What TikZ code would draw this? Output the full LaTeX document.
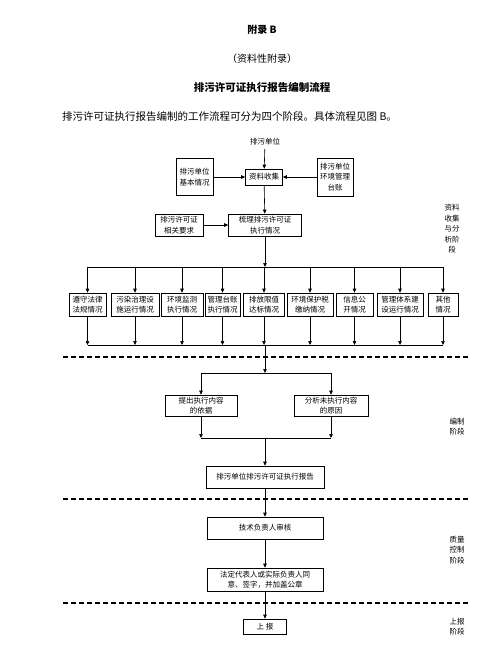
\documentclass[tikz,border=0pt]{standalone}
\usepackage{fontspec}
\newfontfamily\cjk{Noto Sans CJK SC}
\usetikzlibrary{arrows.meta}

\tikzset{
  flowbox/.style={draw, line width=0.6pt, align=center, inner sep=0pt,
    font=\cjk\fontsize{7.5}{10.5}\selectfont},
  flowarrow/.style={-{Triangle[length=4pt,width=3.5pt]}, line width=0.6pt},
  stage/.style={align=center, font=\cjk\fontsize{7.5}{10.5}\selectfont},
  stagerule/.style={line width=1.5pt, dash pattern=on 5pt off 3pt},
}

\begin{document}
\begin{tikzpicture}[x=1pt,y=-1pt]
    \useasboundingbox (0,0) rectangle (489,664);
    % heading
    \node[font=\cjk\bfseries\fontsize{10}{12}\selectfont] (apx) at (262,30) {附录\ B};
    \node[font=\cjk\fontsize{10}{12}\selectfont] (apxkind) at (262,59) {（资料性附录）};
    \node[font=\cjk\bfseries\fontsize{10.5}{12}\selectfont] (apxtitle) at (262,88) {排污许可证执行报告编制流程};
    \node[font=\cjk\fontsize{10.5}{12}\selectfont, anchor=west, inner sep=0pt] (intro) at (62,117)
        {排污许可证执行报告编制的工作流程可分为四个阶段。具体流程见图 B。};
    % collection and analysis
    \node[font=\cjk\fontsize{7.5}{10}\selectfont] (unit) at (265,142) {排污单位};
    \node[flowbox, minimum width=37pt, minimum height=16pt] (collect) at (264,177) {资料收集};
    \node[flowbox, minimum width=37pt, minimum height=37pt] (basic) at (194.5,177) {排污单位\\基本情况};
    \node[flowbox, minimum width=36pt, minimum height=38pt] (ledger) at (335,177) {排污单位\\环境管理\\台账};
    \node[flowbox, minimum width=73pt, minimum height=22pt] (sort) at (265,225) {梳理排污许可证\\执行情况};
    \node[flowbox, minimum width=48pt, minimum height=22pt] (req) at (179,225) {排污许可证\\相关要求};
    \draw[flowarrow] (unit) -- (collect);
    \draw[flowarrow] (basic) -- (collect);
    \draw[flowarrow] (ledger) -- (collect);
    \draw[flowarrow] (collect) -- (sort);
    \draw[flowarrow] (req) -- (sort);
    % nine items
    \foreach \cx/\w/\txt [count=\i] in {
        87.5/37/{遵守法律\\法规情况},
        135/48/{污染治理设\\施运行情况},
        182/42/{环境监测\\执行情况},
        222.5/35/{管理台账\\执行情况},
        264/41/{排放限值\\达标情况},
        310/46/{环境保护税\\缴纳情况},
        354.5/37/{信息公\\开情况},
        400/46/{管理体系建\\设运行情况},
        443/30/{其他\\情况}}
        \node[flowbox, minimum width=\w pt, minimum height=23pt] (item\i) at (\cx,304.5) {\txt};
    \coordinate (busA) at (265,267);
    \coordinate (busB) at (265,345);
    \draw[flowarrow] (sort) -- (busA);
    \draw[line width=0.6pt] (busA -| item1) -- (busA -| item9);
    \draw[line width=0.6pt] (busB -| item1) -- (busB -| item9);
    \foreach \i in {1,...,9} {
        \draw[flowarrow] (busA -| item\i) -- (item\i.north);
        \draw[flowarrow] (item\i.south) -- (busB -| item\i);
    }
    % compilation
    \node[flowbox, minimum width=72pt, minimum height=21pt] (basis) at (201,405.5) {提出执行内容\\的依据};
    \node[flowbox, minimum width=74pt, minimum height=21pt] (cause) at (331,405.5) {分析未执行内容\\的原因};
    \node[flowbox, minimum width=118pt, minimum height=22pt] (report) at (265,477) {排污单位排污许可证执行报告};
    \coordinate (busC) at (265,373);
    \coordinate (busD) at (265,438);
    \draw[flowarrow] (busB) -- (busC);
    \draw[line width=0.6pt] (busC -| basis) -- (busC -| cause);
    \draw[flowarrow] (busC -| basis) -- (basis);
    \draw[flowarrow] (busC -| cause) -- (cause);
    \draw[flowarrow] (basis) -- (busD -| basis);
    \draw[flowarrow] (cause) -- (busD -| cause);
    \draw[line width=0.6pt] (busD -| basis) -- (busD -| cause);
    \draw[flowarrow] (busD) -- (report);
    % quality control
    \node[flowbox, minimum width=116pt, minimum height=22pt] (review) at (265,528) {技术负责人审核};
    \node[flowbox, minimum width=116pt, minimum height=23pt] (sign) at (265,579.5) {法定代表人或实际负责人同\\意、签字，并加盖公章};
    \node[flowbox, minimum width=43pt, minimum height=15pt] (submit) at (265,626.5) {上\ 报};
    \draw[flowarrow] (report) -- (review);
    \draw[flowarrow] (review) -- (sign);
    \draw[flowarrow] (sign) -- (submit);
    % stage rules and labels
    \foreach \ry in {357,499,603}
        \draw[stagerule] (63,\ry) -- (470,\ry);
    \node[stage] (stageA) at (452,229) {资料\\收集\\与分\\析阶\\段};
    \node[stage] (stageB) at (457,426.5) {编制\\阶段};
    \node[stage] (stageC) at (457,550) {质量\\控制\\阶段};
    \node[stage] (stageD) at (457,626.5) {上报\\阶段};
\end{tikzpicture}
\end{document}
